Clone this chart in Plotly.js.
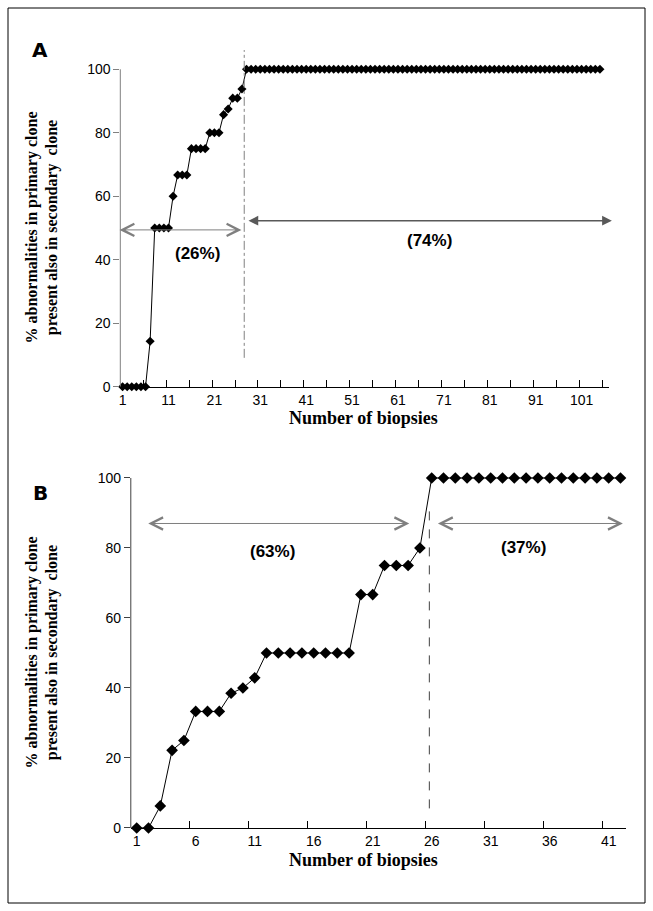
<!DOCTYPE html>
<html><head><meta charset="utf-8">
<script src="https://cdn.plot.ly/plotly-3.0.1.min.js"></script>
<style>html,body{margin:0;padding:0;background:#fff}</style>
</head><body><div id="chart" style="width:653px;height:911px"></div>
<script>
// Panel A: % abnormalities per biopsy (105 biopsies)
const valuesA = [0,0,0,0,0,0,14.3,50,50,50,50,60,66.7,66.7,66.7,75,75,75,75,80,80,80,85.7,87.5,90.9,90.9,93.8,
  100,100,100,100,100,100,100,100,100,100,
  100,100,100,100,100,100,100,100,100,100,
  100,100,100,100,100,100,100,100,100,100,
  100,100,100,100,100,100,100,100,100,100,
  100,100,100,100,100,100,100,100,100,100,
  100,100,100,100,100,100,100,100,100,100,
  100,100,100,100,100,100,100,100,100,100,
  100,100,100,100,100,100,100,100];
// Panel B: 42 biopsies
const valuesB = [0,0,6.3,22.2,25,33.3,33.3,33.3,38.5,40,42.9,50,50,50,50,50,50,50,50,66.7,66.7,75,75,75,80,
  100,100,100,100,100,100,100,100,100,100,100,100,100,100,100,100,100];
const tickValsA = [1,11,21,31,41,51,61,71,81,91,101];
const tickTextA = ['1','11','21','31','41','51','61','71','81','91','101'];
const tickValsB = [1,6,11,16,21,26,31,36,41];
const tickTextB = ['1','6','11','16','21','26','31','36','41'];
const yTicks = [0,20,40,60,80,100];
const pctLabelsA = ['(26%)','(74%)'];
const pctLabelsB = ['(63%)','(37%)'];
const yTitle = '% abnormalities in primary clone<br>present also in secondary  clone';
const xTitle = 'Number of biopsies';

const catsA = valuesA.map((v, i) => i + 1);
const catsB = valuesB.map((v, i) => i + 1);
function between(n) { const r = []; for (let k = 5.5; k <= n + 0.5; k += 5) r.push(k); return r; }

const tickFont = {family: 'Liberation Sans, Arial, sans-serif', size: 14, color: '#000'};
const titleFont = {family: 'Liberation Serif, Times New Roman, serif', size: 16, color: '#000', weight: 'bold'};
const xTitleFont = {family: 'Liberation Serif, Times New Roman, serif', size: 18, color: '#000', weight: 'bold'};
const pctFont = {family: 'Liberation Sans, Arial, sans-serif', size: 17, color: '#000', weight: 'bold'};
const letterFont = {family: 'DejaVu Sans, Verdana, sans-serif', size: 20, color: '#000', weight: 'bold'};

const traces = [
  {x: catsA, y: valuesA, xaxis: 'x', yaxis: 'y', mode: 'lines+markers', cliponaxis: false,
   line: {color: '#000', width: 1}, marker: {symbol: 'diamond', size: 7, color: '#000'}},
  {x: catsB, y: valuesB, xaxis: 'x2', yaxis: 'y2', mode: 'lines+markers', cliponaxis: false,
   line: {color: '#000', width: 1}, marker: {symbol: 'diamond', size: 9, color: '#000'}}
];

function xAxis(domain, range, anchor, tv, tt, n) {
  return {domain, range, anchor, tickmode: 'array', tickvals: tv, ticktext: tt, ticks: '',
    showline: true, linecolor: '#000', linewidth: 1, showgrid: false, zeroline: false,
    tickfont: tickFont, fixedrange: true,
    minor: {ticks: 'inside', ticklen: 7, tickcolor: '#000', tickwidth: 1, tickmode: 'array', tickvals: between(n), showgrid: false}};
}
function yAxis(domain, anchor, tc) {
  return {domain, range: [0, 101], anchor, tickmode: 'array', tickvals: yTicks, ticks: 'outside', ticklen: 6,
    tickcolor: tc, showline: false, showgrid: false, zeroline: false, tickfont: tickFont, fixedrange: true};
}

function arrow(xr, yr, x0, x1, y, head, color, width, size) {
  return {xref: xr, yref: yr, axref: xr, ayref: yr, x: x1, y: y, ax: x0, ay: y, text: '',
    showarrow: true, arrowside: 'end+start', arrowhead: head, startarrowhead: head,
    arrowsize: size, startarrowsize: size, arrowwidth: width, arrowcolor: color, standoff: 0, startstandoff: 0};
}
function label(xr, yr, x, y, text, font, extra) {
  return Object.assign({xref: xr, yref: yr, x, y, text, showarrow: false, font, xanchor: 'center', yanchor: 'middle'}, extra || {});
}

const layout = {
  width: 653, height: 911, margin: {l: 0, r: 0, t: 0, b: 0},
  paper_bgcolor: '#fff', plot_bgcolor: 'rgba(0,0,0,0)', showlegend: false,
  xaxis: xAxis([0.18423, 0.93277], [0.5, 107], 'y', tickValsA, tickTextA, 105),
  yaxis: yAxis([0.57552, 0.92744], 'x', '#808080'),
  xaxis2: xAxis([0.20031, 0.95926], [0.5, 42.5], 'y2', tickValsB, tickTextB, 40),
  yaxis2: yAxis([0.09111, 0.47915], 'x2', '#404040'),
  shapes: [
    {type: 'line', xref: 'x domain', yref: 'y', x0: 0, x1: 0, y0: 0, y1: 100, line: {color: '#808080', width: 1}},
    {type: 'line', xref: 'x2 domain', yref: 'y2', x0: 0, x1: 0, y0: 0, y1: 100, line: {color: '#404040', width: 1}},
    {type: 'line', xref: 'x', yref: 'y domain', x0: 27.5, x1: 27.5, y0: 0.09, y1: 1.05, line: {color: '#808080', width: 1, dash: 'dashdot'}},
    {type: 'line', xref: 'x2', yref: 'y2', x0: 25.8, x1: 25.8, y0: 5.6, y1: 92.8, line: {color: '#404040', width: 1, dash: 'dash'}},
    {type: 'rect', xref: 'paper', yref: 'paper', x0: 8/653, x1: 645/653, y0: 8/911, y1: 903/911, line: {color: '#000', width: 1}}
  ],
  annotations: [
    arrow('x', 'y', 0.0, 26.9, 49.4, 5, '#7f7f7f', 1, 2.4),
    arrow('x', 'y', 28.1, 107.6, 52.3, 2, '#595959', 1.5, 1.3),
    arrow('x2', 'y2', 1.85, 24.1, 87, 5, '#7f7f7f', 1, 2.4),
    arrow('x2', 'y2', 26.4, 42.2, 87, 5, '#7f7f7f', 1, 2.4),
    label('x', 'y', 17.3, 42, pctLabelsA[0], pctFont),
    label('x', 'y', 67.8, 46.2, pctLabelsA[1], pctFont),
    label('x2', 'y2', 12.5, 79, pctLabelsB[0], pctFont),
    label('x2', 'y2', 33.8, 80, pctLabelsB[1], pctFont),
    label('paper', 'y', 42.5/653, 50, yTitle, titleFont, {textangle: -90}),
    label('paper', 'y2', 42.5/653, 50, yTitle, titleFont, {textangle: -90}),
    label('paper', 'paper', 363/653, 1 - 418/911, xTitle, xTitleFont),
    label('paper', 'paper', 363/653, 1 - 860/911, xTitle, xTitleFont),
    label('paper', 'paper', 40/653, 1 - 50/911, 'A', letterFont),
    label('paper', 'paper', 40/653, 1 - 493/911, 'B', letterFont)
  ]
};

Plotly.newPlot('chart', traces, layout, {displayModeBar: false, staticPlot: true});
</script>
</body></html>
